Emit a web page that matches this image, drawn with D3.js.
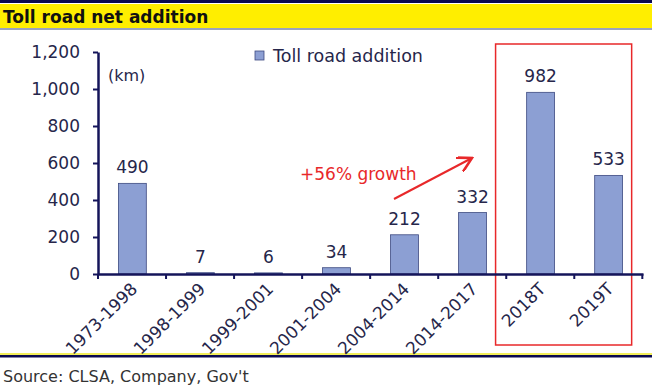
<!DOCTYPE html>
<html>
<head>
<meta charset="utf-8">
<script src="https://cdn.jsdelivr.net/npm/d3@7"></script>
<style>
body{margin:0;background:#fff;}
svg{display:block;font-family:"DejaVu Sans",sans-serif;}
</style>
</head>
<body>
<div id="chart-area"></div>
<script>
const periods = ["1973-1998","1998-1999","1999-2001","2001-2004","2004-2014","2014-2017","2018T","2019T"]
const additions = [490,7,6,34,212,332,982,533]
const yTicks = [0,200,400,600,800,1000,1200]

const W = 652, H = 391
const MARGIN = {LEFT:98,RIGHT:9,TOP:52,BOTTOM:117}
const WIDTH = W - MARGIN.LEFT - MARGIN.RIGHT
const HEIGHT = H - MARGIN.TOP - MARGIN.BOTTOM
const NAVY = "#14145a"
const TEXT = "#26264a"

const svg = d3.select("#chart-area").append("svg")
	.attr("width",W)
	.attr("height",H)

// title band
svg.append("rect").attr("x",0).attr("y",0).attr("width",W).attr("height",3).attr("fill","#0a0a50")
svg.append("rect").attr("x",0).attr("y",4).attr("width",W).attr("height",24).attr("fill","#ffee00")
svg.append("rect").attr("x",0).attr("y",28).attr("width",W).attr("height",2).attr("fill","#9aa3bf")
svg.append("text")
	.attr("x",3).attr("y",23)
	.attr("font-size","17px").attr("font-weight","bold")
	.attr("fill","#111")
	.text("Toll road net addition")

// footer
svg.append("rect").attr("x",0).attr("y",353).attr("width",W).attr("height",2).attr("fill","#f2ee5a")
svg.append("rect").attr("x",0).attr("y",355).attr("width",W).attr("height",2.5).attr("fill","#0a0a50")
svg.append("text")
	.attr("x",3).attr("y",382)
	.attr("font-size","16px")
	.attr("fill","#333")
	.text("Source: CLSA, Company, Gov't")

const g = svg.append("g")
	.attr("transform",`translate(${MARGIN.LEFT},${MARGIN.TOP})`)

const x = d3.scaleBand()
	.domain(periods)
	.range([0,WIDTH])
	.paddingInner(0.59)
	.paddingOuter(0.3)

const y = d3.scaleLinear()
	.domain([0,1200])
	.range([HEIGHT,0])

// red highlight box
g.append("rect")
	.attr("x",x("2018T") - x.step()*x.paddingInner()/2 - 11)
	.attr("y",-8)
	.attr("width",x.step()*2)
	.attr("height",301)
	.attr("fill","none")
	.attr("stroke","#e8282a")
	.attr("stroke-width",1.5)

g.selectAll("rect.bar")
	.data(additions)
	.enter().append("rect")
	.attr("class","bar")
	.attr("x",(d,i)=>x(periods[i]))
	.attr("y",d=>y(d))
	.attr("width",x.bandwidth())
	.attr("height",d=>HEIGHT-y(d))
	.attr("fill","#8c9fd3")
	.attr("stroke","#3d4a80")
	.attr("stroke-width",0.8)

g.selectAll("text.val")
	.data(additions)
	.enter().append("text")
	.attr("class","val")
	.attr("x",(d,i)=>x(periods[i])+x.bandwidth()/2)
	.attr("y",d=>y(d)-10)
	.attr("text-anchor","middle")
	.attr("font-size","17px")
	.attr("fill",TEXT)
	.text(d=>d)

// axes
const xAxisCall = d3.axisBottom(x).tickSize(0).tickFormat("")
const xAxisGroup = g.append("g")
	.attr("transform",`translate(0,${HEIGHT})`)
	.call(xAxisCall)
xAxisGroup.select(".domain").attr("stroke",NAVY).attr("stroke-width",2.5)

// category separators
g.selectAll("line.sep")
	.data(d3.range(periods.length+1))
	.enter().append("line")
	.attr("x1",i=>i*x.step()).attr("x2",i=>i*x.step())
	.attr("y1",HEIGHT).attr("y2",HEIGHT+5)
	.attr("stroke",NAVY).attr("stroke-width",2)

g.selectAll("text.cat")
	.data(periods)
	.enter().append("text")
	.attr("class","cat")
	.attr("text-anchor","end")
	.attr("font-size","17px")
	.attr("fill",TEXT)
	.attr("transform",d=>`translate(${x(d)+x.bandwidth()/2+6},${HEIGHT+16}) rotate(-45)`)
	.text(d=>d)

const yAxisCall = d3.axisLeft(y)
	.tickValues(yTicks)
	.tickSize(5)
	.tickSizeOuter(0)
	.tickFormat(d3.format(","))
const yAxisGroup = g.append("g").call(yAxisCall)
yAxisGroup.select(".domain").attr("stroke",NAVY).attr("stroke-width",2.5)
yAxisGroup.selectAll(".tick line").attr("stroke",NAVY).attr("stroke-width",2)
yAxisGroup.selectAll(".tick text")
	.attr("x",-18)
	.attr("font-size","17px")
	.attr("font-family","'DejaVu Sans',sans-serif")
	.attr("fill",TEXT)

g.append("text")
	.attr("x",10).attr("y",29)
	.attr("font-size","16px")
	.attr("fill",TEXT)
	.text("(km)")

// legend
g.append("rect")
	.attr("x",157).attr("y",-1)
	.attr("width",9).attr("height",9)
	.attr("fill","#8c9fd3").attr("stroke","#3d4a80").attr("stroke-width",0.8)
g.append("text")
	.attr("x",175).attr("y",10)
	.attr("font-size","17.5px")
	.attr("fill",TEXT)
	.text("Toll road addition")

// growth annotation
svg.append("defs").append("marker")
	.attr("id","arrow")
	.attr("viewBox","0 0 10 10")
	.attr("refX",9).attr("refY",5)
	.attr("markerWidth",8).attr("markerHeight",8)
	.attr("orient","auto")
	.append("path")
	.attr("d","M0,0 L9,5 L0,10")
	.attr("fill","none")
	.attr("stroke","#e8282a")
	.attr("stroke-width",1.6)

svg.append("line")
	.attr("x1",394).attr("y1",199)
	.attr("x2",472).attr("y2",158)
	.attr("stroke","#e8282a").attr("stroke-width",2)
	.attr("marker-end","url(#arrow)")

svg.append("text")
	.attr("x",300).attr("y",180)
	.attr("font-size","17px")
	.attr("fill","#e8282a")
	.text("+56% growth")
</script>
</body>
</html>
